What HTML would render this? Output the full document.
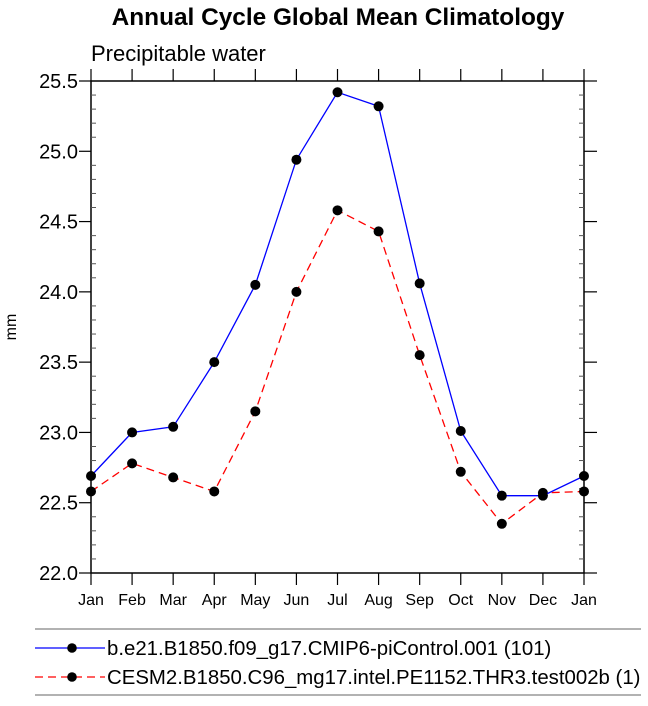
<!DOCTYPE html>
<html><head><meta charset="utf-8"><style>
body{margin:0;background:#fff;}
svg text{font-family:"Liberation Sans",Helvetica,sans-serif;}
</style></head><body>
<svg id="chart" width="648" height="701" xmlns="http://www.w3.org/2000/svg">
<text x="338" y="25" font-size="24.4" font-weight="bold" text-anchor="middle">Annual Cycle Global Mean Climatology</text>
<text x="91" y="61" font-size="22">Precipitable water</text>
<text x="0" y="0" font-size="16" text-anchor="middle" transform="translate(16,327) rotate(-90)">mm</text>
<g id="axes"></g>
<g id="series"></g>
<g>
<line x1="35" y1="629" x2="641" y2="629" stroke="#999" stroke-width="1.5"/>
<line x1="35" y1="695" x2="641" y2="695" stroke="#999" stroke-width="1.5"/>
<line x1="35" y1="648" x2="105" y2="648" stroke="#00f" stroke-width="1.2"/>
<circle cx="72" cy="648" r="4.8" fill="#000"/>
<text x="107" y="655" font-size="20.4">b.e21.B1850.f09_g17.CMIP6-piControl.001 (101)</text>
<line x1="35" y1="677" x2="105" y2="677" stroke="#f00" stroke-width="1.2" stroke-dasharray="8,5"/>
<circle cx="72" cy="677" r="4.8" fill="#000"/>
<text x="107" y="684" font-size="20.4">CESM2.B1850.C96_mg17.intel.PE1152.THR3.test002b (1)</text>
</g>
</svg>
<script>
const months=["Jan","Feb","Mar","Apr","May","Jun","Jul","Aug","Sep","Oct","Nov","Dec","Jan"];
const controlValues=[22.69,23.00,23.04,23.50,24.05,24.94,25.42,25.32,24.06,23.01,22.55,22.55,22.69];
const testValues=[22.58,22.78,22.68,22.58,23.15,24.00,24.58,24.43,23.55,22.72,22.35,22.57,22.58];
const yTicks=["22.0","22.5","23.0","23.5","24.0","24.5","25.0","25.5"];

const L=91,R=584,T=81,B=573,YMIN=22.0,YMAX=25.5;
const NS="http://www.w3.org/2000/svg";
function xs(i){return L+(R-L)*i/(months.length-1);}
function ys(v){return B-(v-YMIN)/(YMAX-YMIN)*(B-T);}
function mk(tag,attrs,parent){const e=document.createElementNS(NS,tag);for(const k in attrs)e.setAttribute(k,attrs[k]);parent.appendChild(e);return e;}
const ax=document.getElementById('axes');
const frame=mk('rect',{x:L,y:T,width:R-L,height:B-T,fill:'none',stroke:'#000','stroke-width':1.5},ax);


months.forEach((m,i)=>{
  const x=xs(i);
  mk('line',{x1:x,y1:B,x2:x,y2:B+12,stroke:'#000','stroke-width':1.2},ax);
  mk('line',{x1:x,y1:T,x2:x,y2:T-12,stroke:'#000','stroke-width':1.2},ax);
  const t=mk('text',{x:x,y:B+32,'font-size':16,'text-anchor':'middle'},ax);
  t.textContent=m;
  
  
});
yTicks.forEach(s=>{
  const y=ys(parseFloat(s));
  mk('line',{x1:L-12,y1:y,x2:L,y2:y,stroke:'#000','stroke-width':1.2},ax);
  mk('line',{x1:R,y1:y,x2:R+13,y2:y,stroke:'#000','stroke-width':1.2},ax);
  const t=mk('text',{x:L-13,y:y+7,'font-size':20,'text-anchor':'end'},ax);
  t.textContent=s;
  
  
});
for(let k=1;k<35;k++){ if(k%5===0)continue;
  const y=ys(YMIN+k*0.1);
  mk('line',{x1:L,y1:y,x2:L+5,y2:y,stroke:'#555','stroke-width':1},ax);
  mk('line',{x1:R-5,y1:y,x2:R,y2:y,stroke:'#555','stroke-width':1},ax);
}
const sg=document.getElementById('series');
function drawSeries(vals,color,dash,name){
  const pts=vals.map((v,i)=>xs(i)+','+ys(v)).join(' ');
  const pl=mk('polyline',{points:pts,fill:'none',stroke:color,'stroke-width':1.3,'stroke-dasharray':dash},sg);
  
  
  vals.forEach((v,i)=>{
    const c=mk('circle',{cx:xs(i),cy:ys(v),r:5,fill:'#000'},sg);
    
    
  });
}
drawSeries(testValues,'#f00','8,5','test-series');
drawSeries(controlValues,'#00f','none','control-series');
</script>
</body></html>
